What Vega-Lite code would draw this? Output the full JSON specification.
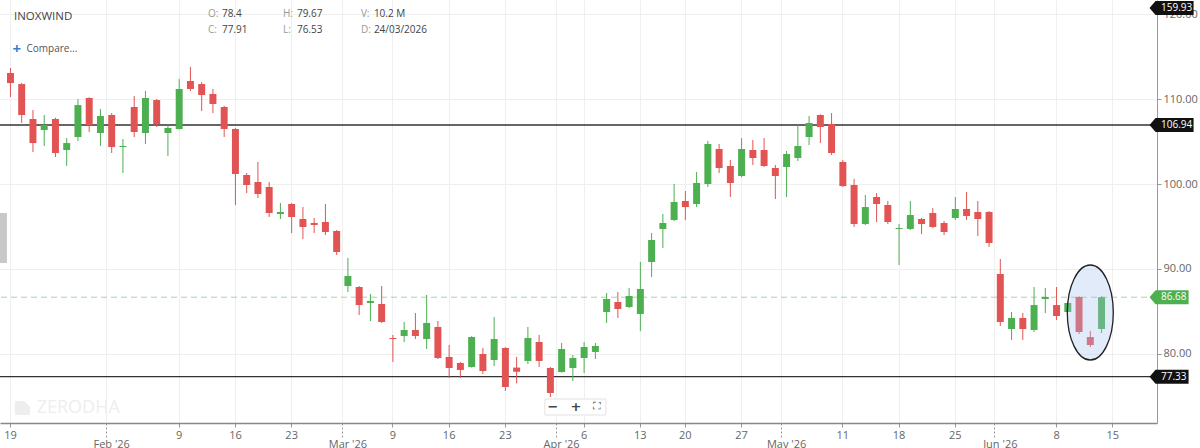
{
  "$schema": "https://vega.github.io/schema/vega-lite/v6.json",
  "width": 1157,
  "height": 423,
  "autosize": {"type": "none"},
  "padding": {"left": 0, "top": 0, "right": 43, "bottom": 25},
  "background": "white",
  "config": {
    "view": {"stroke": null},
    "font": "Open Sans",
    "axis": {"labelFont": "Open Sans", "labelColor": "#666", "labelFontSize": 11, "titleFont": "Open Sans"},
    "text": {"font": "Open Sans"}
  },
  "datasets": {
    "candles": [
      {"date": "2026-01-19", "open": 113.06, "high": 113.65, "low": 110.24, "close": 111.88},
      {"date": "2026-01-20", "open": 111.76, "high": 111.9, "low": 107.18, "close": 108.12},
      {"date": "2026-01-21", "open": 107.65, "high": 108.71, "low": 103.76, "close": 104.82},
      {"date": "2026-01-22", "open": 106.35, "high": 108.12, "low": 104.47, "close": 106.94},
      {"date": "2026-01-23", "open": 107.65, "high": 107.8, "low": 103.18, "close": 103.65},
      {"date": "2026-01-27", "open": 104.0, "high": 105.41, "low": 102.12, "close": 104.82},
      {"date": "2026-01-28", "open": 105.53, "high": 110.0, "low": 105.06, "close": 109.29},
      {"date": "2026-01-29", "open": 110.12, "high": 110.2, "low": 106.12, "close": 106.94},
      {"date": "2026-01-30", "open": 106.0, "high": 108.82, "low": 104.47, "close": 108.0},
      {"date": "2026-02-01", "open": 108.12, "high": 108.35, "low": 103.65, "close": 104.35},
      {"date": "2026-02-02", "open": 104.35, "high": 105.29, "low": 101.29, "close": 104.47},
      {"date": "2026-02-03", "open": 109.06, "high": 110.35, "low": 105.53, "close": 106.12},
      {"date": "2026-02-04", "open": 106.0, "high": 110.94, "low": 104.71, "close": 110.12},
      {"date": "2026-02-05", "open": 109.88, "high": 110.0, "low": 106.71, "close": 107.06},
      {"date": "2026-02-06", "open": 106.0, "high": 106.94, "low": 103.29, "close": 106.59},
      {"date": "2026-02-09", "open": 106.47, "high": 112.35, "low": 106.4, "close": 111.18},
      {"date": "2026-02-10", "open": 112.12, "high": 113.76, "low": 110.94, "close": 111.18},
      {"date": "2026-02-11", "open": 111.76, "high": 112.0, "low": 108.59, "close": 110.47},
      {"date": "2026-02-12", "open": 110.59, "high": 111.18, "low": 108.35, "close": 109.41},
      {"date": "2026-02-13", "open": 109.06, "high": 109.2, "low": 105.53, "close": 106.47},
      {"date": "2026-02-16", "open": 106.47, "high": 106.6, "low": 97.53, "close": 101.18},
      {"date": "2026-02-17", "open": 101.06, "high": 101.29, "low": 98.94, "close": 99.88},
      {"date": "2026-02-18", "open": 100.24, "high": 102.59, "low": 98.35, "close": 98.82},
      {"date": "2026-02-19", "open": 99.65, "high": 100.24, "low": 96.12, "close": 96.59},
      {"date": "2026-02-20", "open": 96.47, "high": 97.76, "low": 95.88, "close": 96.71},
      {"date": "2026-02-23", "open": 97.65, "high": 97.76, "low": 94.24, "close": 96.12},
      {"date": "2026-02-24", "open": 95.88, "high": 97.29, "low": 93.53, "close": 94.94},
      {"date": "2026-02-25", "open": 95.41, "high": 96.0, "low": 94.24, "close": 95.18},
      {"date": "2026-02-26", "open": 95.53, "high": 97.65, "low": 94.0, "close": 94.35},
      {"date": "2026-02-27", "open": 94.47, "high": 94.59, "low": 91.65, "close": 92.0},
      {"date": "2026-03-02", "open": 88.0, "high": 91.29, "low": 87.29, "close": 89.18},
      {"date": "2026-03-04", "open": 87.88, "high": 88.0, "low": 84.59, "close": 85.76},
      {"date": "2026-03-05", "open": 86.0, "high": 87.06, "low": 83.88, "close": 86.24},
      {"date": "2026-03-06", "open": 85.88, "high": 88.0, "low": 83.65, "close": 83.76},
      {"date": "2026-03-09", "open": 81.88, "high": 82.24, "low": 79.06, "close": 81.76},
      {"date": "2026-03-10", "open": 82.12, "high": 83.76, "low": 81.41, "close": 82.82},
      {"date": "2026-03-11", "open": 82.82, "high": 84.82, "low": 81.76, "close": 82.12},
      {"date": "2026-03-12", "open": 81.76, "high": 86.94, "low": 80.59, "close": 83.65},
      {"date": "2026-03-13", "open": 83.18, "high": 83.88, "low": 79.41, "close": 79.53},
      {"date": "2026-03-16", "open": 79.65, "high": 81.06, "low": 77.18, "close": 78.35},
      {"date": "2026-03-17", "open": 78.94, "high": 79.06, "low": 77.18, "close": 78.12},
      {"date": "2026-03-18", "open": 78.47, "high": 82.1, "low": 78.4, "close": 82.0},
      {"date": "2026-03-19", "open": 80.0, "high": 80.71, "low": 77.65, "close": 78.0},
      {"date": "2026-03-20", "open": 79.29, "high": 84.35, "low": 78.59, "close": 81.76},
      {"date": "2026-03-23", "open": 80.71, "high": 80.8, "low": 75.65, "close": 76.12},
      {"date": "2026-03-24", "open": 78.4, "high": 79.67, "low": 76.53, "close": 77.91},
      {"date": "2026-03-25", "open": 79.18, "high": 83.18, "low": 78.82, "close": 81.88},
      {"date": "2026-03-27", "open": 81.41, "high": 82.24, "low": 78.47, "close": 79.18},
      {"date": "2026-03-30", "open": 78.35, "high": 78.47, "low": 74.94, "close": 75.41},
      {"date": "2026-04-01", "open": 77.88, "high": 81.29, "low": 77.8, "close": 80.59},
      {"date": "2026-04-02", "open": 78.35, "high": 79.88, "low": 76.82, "close": 79.53},
      {"date": "2026-04-06", "open": 79.53, "high": 81.41, "low": 77.76, "close": 80.82},
      {"date": "2026-04-07", "open": 80.24, "high": 81.29, "low": 79.41, "close": 80.94},
      {"date": "2026-04-08", "open": 84.94, "high": 87.18, "low": 83.65, "close": 86.47},
      {"date": "2026-04-09", "open": 86.12, "high": 87.29, "low": 84.24, "close": 85.29},
      {"date": "2026-04-10", "open": 85.53, "high": 87.76, "low": 85.4, "close": 86.82},
      {"date": "2026-04-13", "open": 84.71, "high": 90.82, "low": 82.71, "close": 87.65},
      {"date": "2026-04-15", "open": 90.82, "high": 94.24, "low": 89.06, "close": 93.41},
      {"date": "2026-04-16", "open": 94.71, "high": 96.47, "low": 92.47, "close": 95.41},
      {"date": "2026-04-17", "open": 95.76, "high": 100.0, "low": 95.65, "close": 97.88},
      {"date": "2026-04-20", "open": 98.0, "high": 99.18, "low": 95.76, "close": 97.29},
      {"date": "2026-04-21", "open": 97.65, "high": 101.41, "low": 97.29, "close": 100.12},
      {"date": "2026-04-22", "open": 100.0, "high": 105.06, "low": 99.65, "close": 104.71},
      {"date": "2026-04-23", "open": 104.12, "high": 104.71, "low": 101.29, "close": 101.88},
      {"date": "2026-04-24", "open": 102.12, "high": 102.82, "low": 98.47, "close": 100.12},
      {"date": "2026-04-27", "open": 100.94, "high": 105.41, "low": 100.8, "close": 104.12},
      {"date": "2026-04-28", "open": 104.0, "high": 105.18, "low": 102.24, "close": 103.06},
      {"date": "2026-04-29", "open": 104.0, "high": 105.41, "low": 102.0, "close": 102.12},
      {"date": "2026-04-30", "open": 101.88, "high": 102.24, "low": 98.24, "close": 100.94},
      {"date": "2026-05-04", "open": 102.0, "high": 103.88, "low": 98.47, "close": 103.53},
      {"date": "2026-05-05", "open": 103.06, "high": 106.94, "low": 102.71, "close": 104.47},
      {"date": "2026-05-06", "open": 105.53, "high": 108.0, "low": 104.59, "close": 107.18},
      {"date": "2026-05-07", "open": 108.12, "high": 108.2, "low": 104.82, "close": 106.71},
      {"date": "2026-05-08", "open": 107.06, "high": 108.35, "low": 103.41, "close": 103.65},
      {"date": "2026-05-11", "open": 102.59, "high": 102.82, "low": 99.65, "close": 99.76},
      {"date": "2026-05-12", "open": 99.88, "high": 100.59, "low": 94.94, "close": 95.29},
      {"date": "2026-05-13", "open": 95.29, "high": 98.71, "low": 95.18, "close": 97.29},
      {"date": "2026-05-14", "open": 98.47, "high": 98.94, "low": 95.53, "close": 97.65},
      {"date": "2026-05-15", "open": 97.53, "high": 98.0, "low": 95.29, "close": 95.53},
      {"date": "2026-05-18", "open": 94.71, "high": 95.29, "low": 90.47, "close": 94.82},
      {"date": "2026-05-19", "open": 94.71, "high": 98.0, "low": 94.59, "close": 96.35},
      {"date": "2026-05-20", "open": 95.88, "high": 96.0, "low": 94.12, "close": 95.29},
      {"date": "2026-05-21", "open": 96.59, "high": 97.18, "low": 94.82, "close": 94.94},
      {"date": "2026-05-22", "open": 95.41, "high": 95.65, "low": 94.0, "close": 94.35},
      {"date": "2026-05-25", "open": 96.0, "high": 98.47, "low": 95.76, "close": 97.06},
      {"date": "2026-05-26", "open": 97.06, "high": 99.06, "low": 95.76, "close": 96.24},
      {"date": "2026-05-27", "open": 96.71, "high": 98.0, "low": 93.88, "close": 95.88},
      {"date": "2026-05-29", "open": 96.71, "high": 96.8, "low": 92.59, "close": 93.06},
      {"date": "2026-06-01", "open": 89.41, "high": 91.18, "low": 83.29, "close": 83.76},
      {"date": "2026-06-02", "open": 82.94, "high": 84.94, "low": 81.65, "close": 84.24},
      {"date": "2026-06-03", "open": 84.24, "high": 84.82, "low": 81.65, "close": 82.94},
      {"date": "2026-06-04", "open": 82.82, "high": 87.88, "low": 82.59, "close": 85.76},
      {"date": "2026-06-05", "open": 86.47, "high": 87.76, "low": 84.82, "close": 86.71},
      {"date": "2026-06-08", "open": 85.76, "high": 87.88, "low": 84.0, "close": 84.47},
      {"date": "2026-06-09", "open": 84.94, "high": 86.05, "low": 84.9, "close": 86.0},
      {"date": "2026-06-10", "open": 86.71, "high": 86.8, "low": 82.35, "close": 82.59},
      {"date": "2026-06-11", "open": 82.0, "high": 82.71, "low": 80.82, "close": 81.06},
      {"date": "2026-06-12", "open": 82.94, "high": 86.8, "low": 82.47, "close": 86.68}
    ],
    "levels": [
      {"price": 106.94, "kind": "level"},
      {"price": 86.68, "kind": "last"},
      {"price": 77.33, "kind": "level"}
    ]
  },
  "layer": [
    {
      "data": {"name": "levels"},
      "transform": [{"filter": "datum.kind == 'level'"}],
      "mark": {"type": "rule", "color": "#333", "strokeWidth": 1.3},
      "encoding": {"y": {"field": "price", "type": "quantitative", "title": null}}
    },
    {
      "data": {"name": "levels"},
      "transform": [{"filter": "datum.kind == 'last'"}],
      "mark": {"type": "rule", "color": "#9fd6a8", "strokeWidth": 1, "strokeDash": [6, 4]},
      "encoding": {"y": {"field": "price", "type": "quantitative", "title": null}}
    },
    {
      "data": {"name": "candles"},
      "mark": {"type": "rule", "strokeWidth": 1},
      "encoding": {
        "x": {
          "field": "date",
          "type": "ordinal",
          "title": null,
          "scale": {
            "domain": ["2026-01-19","2026-01-20","2026-01-21","2026-01-22","2026-01-23","2026-01-27","2026-01-28","2026-01-29","2026-01-30","2026-02-01","2026-02-02","2026-02-03","2026-02-04","2026-02-05","2026-02-06","2026-02-09","2026-02-10","2026-02-11","2026-02-12","2026-02-13","2026-02-16","2026-02-17","2026-02-18","2026-02-19","2026-02-20","2026-02-23","2026-02-24","2026-02-25","2026-02-26","2026-02-27","2026-03-02","2026-03-04","2026-03-05","2026-03-06","2026-03-09","2026-03-10","2026-03-11","2026-03-12","2026-03-13","2026-03-16","2026-03-17","2026-03-18","2026-03-19","2026-03-20","2026-03-23","2026-03-24","2026-03-25","2026-03-27","2026-03-30","2026-04-01","2026-04-02","2026-04-06","2026-04-07","2026-04-08","2026-04-09","2026-04-10","2026-04-13","2026-04-15","2026-04-16","2026-04-17","2026-04-20","2026-04-21","2026-04-22","2026-04-23","2026-04-24","2026-04-27","2026-04-28","2026-04-29","2026-04-30","2026-05-04","2026-05-05","2026-05-06","2026-05-07","2026-05-08","2026-05-11","2026-05-12","2026-05-13","2026-05-14","2026-05-15","2026-05-18","2026-05-19","2026-05-20","2026-05-21","2026-05-22","2026-05-25","2026-05-26","2026-05-27","2026-05-29","2026-06-01","2026-06-02","2026-06-03","2026-06-04","2026-06-05","2026-06-08","2026-06-09","2026-06-10","2026-06-11","2026-06-12","2026-06-15","2026-06-16","2026-06-17","2026-06-18"],
            "paddingInner": 0.38,
            "paddingOuter": 0.62
          },
          "axis": {
            "orient": "bottom",
            "values": ["2026-01-19","2026-02-09","2026-02-16","2026-02-23","2026-03-09","2026-03-16","2026-03-23","2026-04-06","2026-04-13","2026-04-20","2026-04-27","2026-05-11","2026-05-18","2026-05-25","2026-06-08","2026-06-15"],
            "labelExpr": "toNumber(slice(datum.value, 8, 10))",
            "bandPosition": 0.5,
            "labelAngle": 0,
            "labelPadding": 2,
            "tickSize": 4,
            "tickColor": "#999",
            "domainColor": "#888",
            "domainWidth": 1.5,
            "grid": true,
            "gridColor": "#efefef"
          }
        },
        "y": {
          "field": "low",
          "type": "quantitative",
          "title": null,
          "scale": {"domain": [71.88, 121.65], "nice": false, "zero": false},
          "axis": {
            "orient": "right",
            "values": [80, 90, 100, 110, 120],
            "format": ".2f",
            "grid": true,
            "gridColor": "#efefef",
            "tickSize": 4,
            "tickColor": "#999",
            "domainColor": "#999",
            "labelPadding": 2
          }
        },
        "y2": {"field": "high"},
        "color": {
          "condition": {"test": "datum.close >= datum.open", "value": "#4caf50"},
          "value": "#e25353"
        }
      }
    },
    {
      "data": {"name": "candles"},
      "mark": {"type": "bar"},
      "encoding": {
        "x": {
          "field": "date",
          "type": "ordinal",
          "title": null,
          "axis": {
            "orient": "bottom",
            "values": ["2026-02-01","2026-03-02","2026-04-01","2026-05-04","2026-06-01"],
            "labelExpr": "utcFormat(toDate(datum.value), \"%b '%y\")",
            "bandPosition": -0.3,
            "labelAngle": 0,
            "labelPadding": 1,
            "tickSize": 14,
            "tickDash": [2, 2],
            "tickColor": "#999",
            "domain": false,
            "grid": true,
            "gridColor": "#efefef"
          }
        },
        "y": {"field": "open", "type": "quantitative", "title": null},
        "y2": {"field": "close"},
        "color": {
          "condition": {"test": "datum.close >= datum.open", "value": "#4caf50"},
          "value": "#e25353"
        }
      }
    },
    {
      "data": {"values": [{}]},
      "mark": {
        "type": "point",
        "shape": "M-23,0 A23,47.5 0 1,0 23,0 A23,47.5 0 1,0 -23,0 Z",
        "size": 4,
        "filled": true,
        "fill": "#a8c2f0",
        "fillOpacity": 0.33,
        "stroke": "#222",
        "strokeWidth": 1.3,
        "opacity": 1
      },
      "encoding": {
        "x": {"datum": "2026-06-11", "type": "ordinal", "axis": null},
        "y": {"datum": 84.88, "type": "quantitative"}
      }
    },
    {
      "data": {"values": [{}]},
      "mark": {
        "type": "point",
        "shape": "M-10.5,-25 L-3.5,-25 L-3.5,25 L-10.5,25 Z",
        "size": 4,
        "filled": true,
        "fill": "#c8c8c8",
        "opacity": 1
      },
      "encoding": {
        "x": {"datum": "2026-01-19", "type": "ordinal", "axis": null},
        "y": {"datum": 93.65, "type": "quantitative"}
      }
    },
    {
      "data": {"values": [{}]},
      "mark": {
        "type": "point",
        "shape": "M4.5,-7 L14,-7 L19.5,-1 L19.5,7 L4.5,7 Z",
        "size": 4,
        "filled": true,
        "fill": "#eeeeee",
        "opacity": 1
      },
      "encoding": {
        "x": {"datum": "2026-01-19", "type": "ordinal", "axis": null},
        "y": {"datum": 73.65, "type": "quantitative"}
      }
    },
    {
      "data": {"values": [{}]},
      "mark": {"type": "text", "text": "ZERODHA", "align": "left", "baseline": "middle", "dx": 15, "fontSize": 18, "color": "#eeeeee"},
      "encoding": {
        "x": {"datum": "2026-01-20", "type": "ordinal", "axis": null},
        "y": {"datum": 73.65, "type": "quantitative"}
      }
    },
    {
      "data": {"values": [{}]},
      "mark": {
        "type": "point",
        "shape": "M-28,-8 L33,-8 L33,8 L-28,8 Z",
        "size": 4,
        "filled": true,
        "fill": "white",
        "stroke": "#e3e3e3",
        "strokeWidth": 1,
        "opacity": 1
      },
      "encoding": {
        "x": {"datum": "2026-04-02", "type": "ordinal", "axis": null},
        "y": {"datum": 73.76, "type": "quantitative"}
      }
    },
    {
      "data": {"values": [{}]},
      "mark": {"type": "text", "text": "−", "align": "center", "baseline": "middle", "dx": -20, "fontSize": 13, "fontWeight": "bold", "color": "#444", "font": "DejaVu Sans"},
      "encoding": {
        "x": {"datum": "2026-04-02", "type": "ordinal", "axis": null},
        "y": {"datum": 73.76, "type": "quantitative"}
      }
    },
    {
      "data": {"values": [{}]},
      "mark": {"type": "text", "text": "+", "align": "center", "baseline": "middle", "dx": 3, "fontSize": 13, "fontWeight": "bold", "color": "#444", "font": "DejaVu Sans"},
      "encoding": {
        "x": {"datum": "2026-04-02", "type": "ordinal", "axis": null},
        "y": {"datum": 73.76, "type": "quantitative"}
      }
    },
    {
      "data": {"values": [{}]},
      "mark": {"type": "text", "text": "⛶", "align": "center", "baseline": "middle", "dx": 24, "fontSize": 11, "color": "#444", "font": "DejaVu Sans"},
      "encoding": {
        "x": {"datum": "2026-04-02", "type": "ordinal", "axis": null},
        "y": {"datum": 73.76, "type": "quantitative"}
      }
    },
    {
      "data": {"values": [{}]},
      "mark": {"type": "text", "text": "INOXWIND", "align": "left", "baseline": "middle", "dx": 3.5, "fontSize": 11.5, "color": "#444"},
      "encoding": {
        "x": {"datum": "2026-01-19", "type": "ordinal", "axis": null},
        "y": {"datum": 119.65, "type": "quantitative"}
      }
    },
    {
      "data": {"values": [{}]},
      "mark": {"type": "text", "text": "+", "align": "left", "baseline": "middle", "dx": 2, "fontSize": 15, "fontWeight": "bold", "color": "#387ed1"},
      "encoding": {
        "x": {"datum": "2026-01-19", "type": "ordinal", "axis": null},
        "y": {"datum": 115.85, "type": "quantitative"}
      }
    },
    {
      "data": {"values": [{}]},
      "mark": {"type": "text", "text": "Compare...", "align": "left", "baseline": "middle", "dx": 16, "fontSize": 10, "color": "#555"},
      "encoding": {
        "x": {"datum": "2026-01-19", "type": "ordinal", "axis": null},
        "y": {"datum": 115.88, "type": "quantitative"}
      }
    },
    {
      "data": {"values": [{}]},
      "mark": {"type": "text", "text": ["O:", "C:"], "lineHeight": 16, "align": "left", "baseline": "alphabetic", "dx": -5, "fontSize": 10, "color": "#999"},
      "encoding": {
        "x": {"datum": "2026-02-12", "type": "ordinal", "axis": null},
        "y": {"datum": 119.65, "type": "quantitative"}
      }
    },
    {
      "data": {"values": [{}]},
      "mark": {"type": "text", "text": ["78.4", "77.91"], "lineHeight": 16, "align": "left", "baseline": "alphabetic", "dx": 9, "fontSize": 10, "color": "#444"},
      "encoding": {
        "x": {"datum": "2026-02-12", "type": "ordinal", "axis": null},
        "y": {"datum": 119.65, "type": "quantitative"}
      }
    },
    {
      "data": {"values": [{}]},
      "mark": {"type": "text", "text": ["H:", "L:"], "lineHeight": 16, "align": "left", "baseline": "alphabetic", "dx": -8.75, "fontSize": 10, "color": "#999"},
      "encoding": {
        "x": {"datum": "2026-02-23", "type": "ordinal", "axis": null},
        "y": {"datum": 119.65, "type": "quantitative"}
      }
    },
    {
      "data": {"values": [{}]},
      "mark": {"type": "text", "text": ["79.67", "76.53"], "lineHeight": 16, "align": "left", "baseline": "alphabetic", "dx": 5.25, "fontSize": 10, "color": "#444"},
      "encoding": {
        "x": {"datum": "2026-02-23", "type": "ordinal", "axis": null},
        "y": {"datum": 119.65, "type": "quantitative"}
      }
    },
    {
      "data": {"values": [{}]},
      "mark": {"type": "text", "text": ["V:", "D:"], "lineHeight": 16, "align": "left", "baseline": "alphabetic", "dx": -9.5, "fontSize": 10, "color": "#999"},
      "encoding": {
        "x": {"datum": "2026-03-05", "type": "ordinal", "axis": null},
        "y": {"datum": 119.65, "type": "quantitative"}
      }
    },
    {
      "data": {"values": [{}]},
      "mark": {"type": "text", "text": ["10.2 M", "24/03/2026"], "lineHeight": 16, "align": "left", "baseline": "alphabetic", "dx": 3.5, "fontSize": 10, "color": "#444"},
      "encoding": {
        "x": {"datum": "2026-03-05", "type": "ordinal", "axis": null},
        "y": {"datum": 119.65, "type": "quantitative"}
      }
    },
    {
      "data": {"name": "levels"},
      "mark": {"type": "point", "size": 4, "filled": true, "opacity": 1},
      "encoding": {
        "x": {"datum": "2026-06-18", "type": "ordinal", "axis": null},
        "y": {"field": "price", "type": "quantitative", "title": null},
        "shape": {
          "condition": {"test": "datum.price >= 100", "value": "M3,0 L9,-7 L47,-7 L47,7 L9,7 Z"},
          "value": "M3,0 L9,-7 L42,-7 L42,7 L9,7 Z"
        },
        "color": {
          "condition": {"test": "datum.kind == 'last'", "value": "#4caf50"},
          "value": "#111"
        }
      }
    },
    {
      "data": {"values": [{}]},
      "mark": {"type": "point", "size": 4, "filled": true, "opacity": 1, "color": "#111", "shape": "M3,0 L9,-7 L47,-7 L47,7 L9,7 Z"},
      "encoding": {
        "x": {"datum": "2026-06-18", "type": "ordinal", "axis": null},
        "y": {"datum": 120.71, "type": "quantitative"}
      }
    },
    {
      "data": {"name": "levels"},
      "mark": {"type": "text", "align": "left", "baseline": "middle", "dx": 14.5, "fontSize": 10, "color": "white"},
      "encoding": {
        "x": {"datum": "2026-06-18", "type": "ordinal", "axis": null},
        "y": {"field": "price", "type": "quantitative", "title": null},
        "text": {"field": "price", "type": "quantitative", "format": ".2f"}
      }
    },
    {
      "data": {"values": [{}]},
      "mark": {"type": "text", "text": "159.93", "align": "left", "baseline": "middle", "dx": 14.5, "fontSize": 10, "color": "white"},
      "encoding": {
        "x": {"datum": "2026-06-18", "type": "ordinal", "axis": null},
        "y": {"datum": 120.71, "type": "quantitative"}
      }
    }
  ],
  "resolve": {"axis": {"x": "independent"}}
}
